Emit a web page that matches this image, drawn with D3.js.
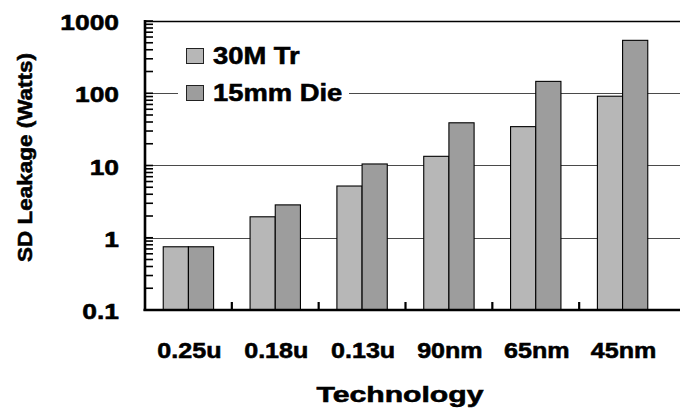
<!DOCTYPE html>
<html>
<head>
<meta charset="utf-8">
<script src="https://cdn.jsdelivr.net/npm/d3@7"></script>
<style>
  html, body { margin: 0; padding: 0; background: #fff; }
  svg { display: block; }
  text { font-family: "Liberation Sans", Arial, sans-serif; font-weight: bold; fill: #000;
         stroke: #000; stroke-width: 0.55px; }
</style>
</head>
<body>
<svg id="chart" width="680" height="410"></svg>
<script>
// Technology nodes and standby (SD) leakage in watts
const categories = ["0.25u", "0.18u", "0.13u", "90nm", "65nm", "45nm"];
const seriesNames = ["30M Tr", "15mm Die"];
const tr30M   = [0.75, 1.95, 5.2, 13.4, 34.5, 91];
const die15mm = [0.75, 2.85, 10.5, 39, 146, 540];
const yTickValues = [0.1, 1, 10, 100, 1000];
const yTickLabels = ["0.1", "1", "10", "100", "1000"];

const colors = ["#b7b7b7", "#9d9d9d"];

const svg = d3.select("#chart");
const plotLeft = 145, plotRight = 666, gridRight = 682, plotTop = 21, plotBottom = 310;

const y = d3.scaleLog().domain([0.1, 1000]).range([plotBottom, plotTop]);
const x = d3.scaleBand().domain(categories).range([plotLeft, plotRight])
  .paddingInner(0.42).paddingOuter(0.21);
const xs = d3.scaleBand().domain(seriesNames).range([0, x.bandwidth()]);

// horizontal grid lines at each decade
svg.append("g").selectAll("line")
  .data(yTickValues.slice(1))
  .join("line")
  .attr("x1", plotLeft).attr("x2", gridRight)
  .attr("y1", d => Math.round(y(d)) + 0.5).attr("y2", d => Math.round(y(d)) + 0.5)
  .attr("stroke", d => d === 1000 ? "#000" : "#4a4a4a")
  .attr("stroke-width", d => d === 1000 ? 1.6 : 1.2);

// bars
const rows = categories.map((c, i) => ({ cat: c, vals: [tr30M[i], die15mm[i]] }));
svg.append("g").selectAll("g")
  .data(rows)
  .join("g")
  .attr("transform", d => `translate(${x(d.cat)},0)`)
  .selectAll("rect")
  .data(d => d.vals.map((v, j) => ({ name: seriesNames[j], v, j })))
  .join("rect")
  .attr("x", d => xs(d.name))
  .attr("width", xs.bandwidth())
  .attr("y", d => y(d.v))
  .attr("height", d => plotBottom - y(d.v))
  .attr("fill", d => colors[d.j])
  .attr("stroke", "#000")
  .attr("stroke-width", 1.1);

// y axis with inward minor ticks for each decade
const minorVals = [];
for (let e = -1; e < 3; e++) {
  for (let m = 1; m <= 9; m++) minorVals.push(m * Math.pow(10, e));
}
minorVals.push(1000);
svg.append("g").selectAll("line")
  .data(minorVals)
  .join("line")
  .attr("x1", plotLeft).attr("x2", plotLeft + 8)
  .attr("y1", d => y(d)).attr("y2", d => y(d))
  .attr("stroke", "#000").attr("stroke-width", 1.6);

svg.append("line")
  .attr("x1", plotLeft).attr("x2", plotLeft)
  .attr("y1", plotTop - 1).attr("y2", plotBottom + 1)
  .attr("stroke", "#000").attr("stroke-width", 2.6);

// x axis line with separators between categories
svg.append("line")
  .attr("x1", plotLeft - 1.5).attr("x2", gridRight)
  .attr("y1", plotBottom).attr("y2", plotBottom)
  .attr("stroke", "#000").attr("stroke-width", 2.6);

const step = x.step();
const boundaries = categories.slice(1).map(c => x(c) - x.paddingInner() * step / 2);
svg.append("g").selectAll("line")
  .data(boundaries)
  .join("line")
  .attr("x1", d => d).attr("x2", d => d)
  .attr("y1", plotBottom).attr("y2", plotBottom - 8)
  .attr("stroke", "#000").attr("stroke-width", 2.2);

// y tick labels
svg.append("g").selectAll("g")
  .data(yTickValues)
  .join("g")
  .attr("transform", d => `translate(119,${y(d) + 9})`)
  .append("text")
  .attr("text-anchor", "end")
  .attr("font-size", 22)
  .attr("transform", "scale(1.2,1)")
  .text((d, i) => yTickLabels[i]);

// x tick labels
svg.append("g").selectAll("g")
  .data(categories)
  .join("g")
  .attr("transform", d => `translate(${x(d) + x.bandwidth() / 2 + 1},357.5)`)
  .append("text")
  .attr("text-anchor", "middle")
  .attr("font-size", 22)
  .attr("transform", "scale(1.14,1)")
  .text(d => d);

// axis titles
svg.append("text")
  .attr("x", 400).attr("y", 401.5)
  .attr("text-anchor", "middle")
  .attr("font-size", 22)
  .attr("textLength", 167)
  .attr("lengthAdjust", "spacingAndGlyphs")
  .text("Technology");

svg.append("text")
  .attr("transform", "translate(32,157.5) rotate(-90)")
  .attr("text-anchor", "middle")
  .attr("font-size", 21)
  .attr("textLength", 209)
  .attr("lengthAdjust", "spacingAndGlyphs")
  .text("SD Leakage (Watts)");

// legend
const legend = svg.append("g");
legend.append("rect")
  .attr("x", 178).attr("y", 38).attr("width", 171).attr("height", 72)
  .attr("fill", "#fff");
const items = legend.selectAll("g.item")
  .data(seriesNames)
  .join("g")
  .attr("class", "item")
  .attr("transform", (d, i) => `translate(186,${48 + i * 37})`);
items.append("rect")
  .attr("x", 0.5).attr("y", 0.5).attr("width", 17).attr("height", 15)
  .attr("fill", (d, i) => colors[i])
  .attr("stroke", "#222").attr("stroke-width", 1);
items.append("g")
  .attr("transform", "translate(27,16)")
  .append("text")
  .attr("font-size", 23)
  .attr("transform", "scale(1.19,1)")
  .text(d => d);
</script>
</body>
</html>
